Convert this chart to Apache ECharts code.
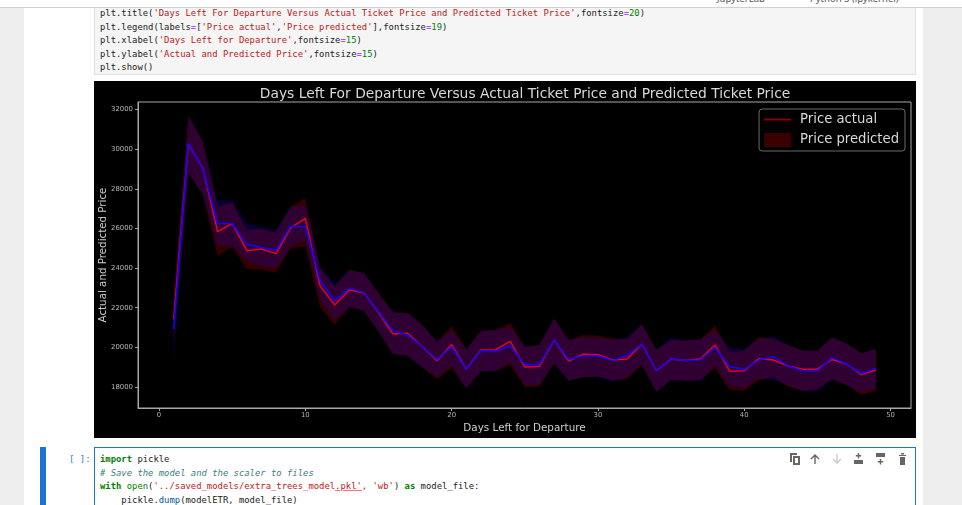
<!DOCTYPE html>
<html>
<head>
<meta charset="utf-8">
<script src="https://cdn.jsdelivr.net/npm/echarts@6/dist/echarts.min.js"></script>
<style>
  html, body { margin: 0; padding: 0; width: 962px; height: 505px; overflow: hidden; background: #fff; }
  .gutter { position: absolute; top: 7px; bottom: 0; background: #eeeeee; }
  .topbar { position: absolute; left: 0; right: 0; top: 0; height: 8px; background: #fff; border-bottom: 1px solid #d0d0d0; box-sizing: border-box; overflow: hidden; }
  .kernel { position: absolute; top: -8px; font: 9.5px "Noto Sans"; color: #555; white-space: pre; }
  .code { position: absolute; font: 8.9px/13.5px "DejaVu Sans Mono"; color: #222; white-space: pre; margin: 0; }
  .cell1 { position: absolute; left: 94px; top: 7px; width: 822px; height: 68px; background: #f5f5f5; border: 1px solid #e0e0e0; box-sizing: border-box; }
  .cell2 { position: absolute; left: 94px; top: 447px; width: 822px; height: 70px; background: #fff; border: 1px solid #1976d2; box-sizing: border-box; }
  .bar { position: absolute; left: 40px; top: 447px; width: 6px; height: 58px; background: #1976d2; }
  .prompt { position: absolute; left: 69px; top: 453px; font: 9px/13px "DejaVu Sans Mono"; color: #307fc1; }
  #chart { position: absolute; left: 94px; top: 81px; width: 822px; height: 357px; }
  .s { color: #ba2121; } .n { color: #008000; } .o { color: #aa22ff; } .k { color: #008000; font-weight: bold; }
  .c { color: #408080; font-style: italic; } .b { color: #0055aa; } .g { color: #008000; }
  .u { text-decoration: underline; text-decoration-color: #ff6b81; }
  .tools { position: absolute; left: 788px; top: 452px; }
</style>
</head>
<body>
<div class="gutter" style="left:0;width:24px"></div>
<div class="gutter" style="left:923px;right:0"></div>
<div class="cell1"></div>
<div class="topbar"><div class="kernel" style="left:717px">JupyterLab</div><div class="kernel" style="left:810px">Python 3 (ipykernel)</div></div>
<pre class="code" style="left:100px;top:7px">plt.title(<span class="s">'Days Left For Departure Versus Actual Ticket Price and Predicted Ticket Price'</span>,fontsize<span class="o">=</span><span class="n">20</span>)
plt.legend(labels<span class="o">=</span>[<span class="s">'Price actual'</span>,<span class="s">'Price predicted'</span>],fontsize<span class="o">=</span><span class="n">19</span>)
plt.xlabel(<span class="s">'Days Left for Departure'</span>,fontsize<span class="o">=</span><span class="n">15</span>)
plt.ylabel(<span class="s">'Actual and Predicted Price'</span>,fontsize<span class="o">=</span><span class="n">15</span>)
plt.show()</pre>
<div id="chart"></div>
<div class="bar"></div>
<div class="prompt">[ ]:</div>
<div class="cell2"></div>
<pre class="code" style="left:100px;top:453px"><span class="k">import</span> pickle
<span class="c"># Save the model and the scaler to files</span>
<span class="k">with</span> <span class="g">open</span>(<span class="s">'../saved_models/extra_trees_model<span class="u">.pkl'</span>, 'wb'</span>) <span class="k">as</span> model_file:
    pickle.<span class="b">dump</span>(modelETR, model_file)</pre>
<svg class="tools" width="122" height="14" viewBox="0 0 122 14" fill="#666">
  <path d="M2 1h7v2H4v7H2z M5 4h7v9H5z M7 6v5h3V6z" fill-rule="evenodd"/>
  <path d="M27 2l-4.500 4.500 1 1L26.300 4.800V12h1.400V4.800l2.800 2.700 1-1z"/>
  <path d="M49 12l-4.500-4.500 1-1 2.800 2.700V2h1.400v7.200l2.800-2.700 1 1z" fill="#ccc"/>
  <path d="M66 8h9v4h-9z M69.800 1h1.400v2h2v1.400h-2v2h-1.400v-2h-2V3h2z" />
  <path d="M88 1h9v4h-9z M91.800 7h1.400v2h2v1.400h-2v2h-1.400v-2h-2V9h2z"/>
  <path d="M111 3h7v1h-7z M113 1h3v1.500h-3z M112 5h5v8h-5z"/>
</svg>
<script>
// Valeurs
const days = [1,2,3,4,5,6,7,8,9,10,11,12,13,14,15,16,17,18,19,20,21,22,23,24,25,26,27,28,29,30,31,32,33,34,35,36,37,38,39,40,41,42,43,44,45,46,47,48,49];
const priceActual = [21415,30250,29030,25840,26250,24880,24960,24730,26040,26510,23100,22140,22890,22760,21750,20670,20710,20030,19330,20140,18900,19870,19880,20300,19010,19040,20370,19310,19650,19630,19360,19410,20170,18820,19410,19340,19410,20120,18800,18820,19430,19360,19060,18890,18900,19390,19160,18620,18860];
const pricePredicted = [20926,30295,29000,26250,26250,25200,25040,24910,26120,26090,23400,22350,22990,22760,21800,20830,20620,20030,19390,20030,18900,19830,19800,20080,19130,19130,20370,19390,19560,19560,19330,19600,20170,18820,19430,19340,19360,19980,19020,18890,19360,19530,19060,18820,18800,19480,19160,18670,18940];
const actualUpper = [22500,31670,30375,27100,27300,25920,25970,25780,27100,27520,24000,23060,23900,23750,22740,21770,21720,21130,20250,21080,19900,20830,20880,21240,20030,20120,21460,20370,20620,20600,20450,20400,21160,19870,20370,20340,20400,21090,19780,19820,20540,20410,20120,19830,19830,20500,20200,19700,19920];
const actualLower = [20400,28780,27690,24610,25080,23950,23920,23770,25010,25080,22050,21130,22030,21850,20790,19660,19560,18990,18400,18950,17930,18800,18820,19110,17980,18020,19190,18320,18500,18520,18340,18400,19110,17760,18350,18320,18350,18940,17850,17810,18340,18490,18020,17800,17880,18390,18100,17600,17800];
const predictedUpper = [22000,31670,30375,27430,27400,26270,26090,25920,27100,27130,24150,23200,23900,23750,22740,21770,21720,21130,20320,20850,19900,20830,20880,21040,20030,20120,21460,20370,20480,20480,20350,20540,21160,19870,20500,20340,20400,20850,19950,19920,20400,20540,20120,19830,19830,20500,20200,19700,19920];
const predictedLower = [19362,28780,27690,25130,25130,24400,24100,24000,25100,25420,22390,21380,22030,21850,20790,19660,19560,18990,18500,19070,17930,18770,18770,19280,18100,18120,19190,18320,18500,18520,18240,18520,19110,17760,18350,18320,18300,19070,18030,17950,18440,18340,18100,17800,17760,18390,18100,17730,17950];
const xTicks = [0,10,20,30,40,50];
const yTicks = [18000,20000,22000,24000,26000,28000,30000,32000];

const pairs = vals => days.map((d, i) => [d, vals[i]]);

// Bande de confiance : un seul polygone, dessiné au premier point
function makeBand(name, lower, upper, color) {
  return {
    name,
    type: 'custom',
    silent: true,
    itemStyle: { color },
    encode: { x: 0, y: [1, 2] },
    data: days.map((d, i) => [d, upper[i], lower[i]]),
    renderItem(params, api) {
      if (params.dataIndex !== 0) return null;
      const top = days.map((d, i) => api.coord([d, upper[i]]));
      const bottom = days.map((d, i) => api.coord([d, lower[i]])).reverse();
      return { type: 'polygon', shape: { points: top.concat(bottom) }, style: { fill: color } };
    },
  };
}

const chart = echarts.init(document.getElementById('chart'));
chart.setOption({
  animation: false,
  backgroundColor: '#000',
  textStyle: { fontFamily: 'DejaVu Sans' },
  title: {
    text: 'Days Left For Departure Versus Actual Ticket Price and Predicted Ticket Price',
    left: 426, top: 1, textAlign: 'center',
    textStyle: { color: '#d9d9d9', fontSize: 13.85, fontWeight: 'normal', fontFamily: 'DejaVu Sans' },
  },
  legend: {
    right: 11, top: 28, orient: 'vertical', itemGap: 7, itemWidth: 27, itemHeight: 14,
    padding: [4, 6, 4, 4], backgroundColor: '#000', borderColor: '#6a6a6a', borderWidth: 1, borderRadius: 3,
    textStyle: { color: '#d9d9d9', fontSize: 13.2, fontFamily: 'DejaVu Sans', padding: [0, 0, 0, 4] },
    data: [
      { name: 'Price actual', lineStyle: { color: '#8b0000', width: 2 }, itemStyle: { color: 'transparent', opacity: 0 } },
      { name: 'Price predicted', icon: 'rect', itemStyle: { color: '#3a0000' } },
    ],
  },
  grid: {
    left: 44, right: 5, top: 21, height: 306, outerBoundsMode: 'none',
    show: true, borderColor: '#a8a8a8', borderWidth: 1, backgroundColor: '#000',
  },
  xAxis: {
    type: 'value', min: -1.44, max: 51.4, splitLine: { show: false },
    name: 'Days Left for Departure', nameLocation: 'middle', nameGap: 15, nameMoveOverlap: false,
    nameTextStyle: { color: '#cfcfcf', fontSize: 10.4 },
    axisLine: { show: true, onZero: false, lineStyle: { color: '#a8a8a8' } },
    axisTick: { show: true, length: 3, lineStyle: { color: '#a8a8a8' }, customValues: xTicks },
    axisLabel: { color: '#b5b5b5', fontSize: 6.9, margin: 4, customValues: xTicks },
  },
  yAxis: {
    type: 'value', min: 16940, max: 32380, splitLine: { show: false },
    name: 'Actual and Predicted Price', nameLocation: 'middle', nameGap: 30, nameMoveOverlap: false,
    nameTextStyle: { color: '#cfcfcf', fontSize: 10.3 },
    axisLine: { show: true, onZero: false, lineStyle: { color: '#a8a8a8' } },
    axisTick: { show: true, length: 3, lineStyle: { color: '#a8a8a8' }, customValues: yTicks },
    axisLabel: { color: '#b5b5b5', fontSize: 6.9, margin: 5, customValues: yTicks, formatter: v => String(v) },
  },
  series: [
    makeBand('Price predicted', actualLower, actualUpper, 'rgba(255,0,0,0.2)'),
    makeBand('Predicted band', predictedLower, predictedUpper, 'rgba(40,0,255,0.2)'),
    { name: 'Price actual', type: 'line', symbol: 'none', data: pairs(priceActual), lineStyle: { color: '#e8001c', width: 1.5 }, itemStyle: { color: '#e8001c' } },
    { name: 'Predicted', type: 'line', symbol: 'none', data: pairs(pricePredicted), lineStyle: { color: '#1400ff', width: 1.5 }, itemStyle: { color: '#1400ff' } },
  ],
});
</script>
</body>
</html>
